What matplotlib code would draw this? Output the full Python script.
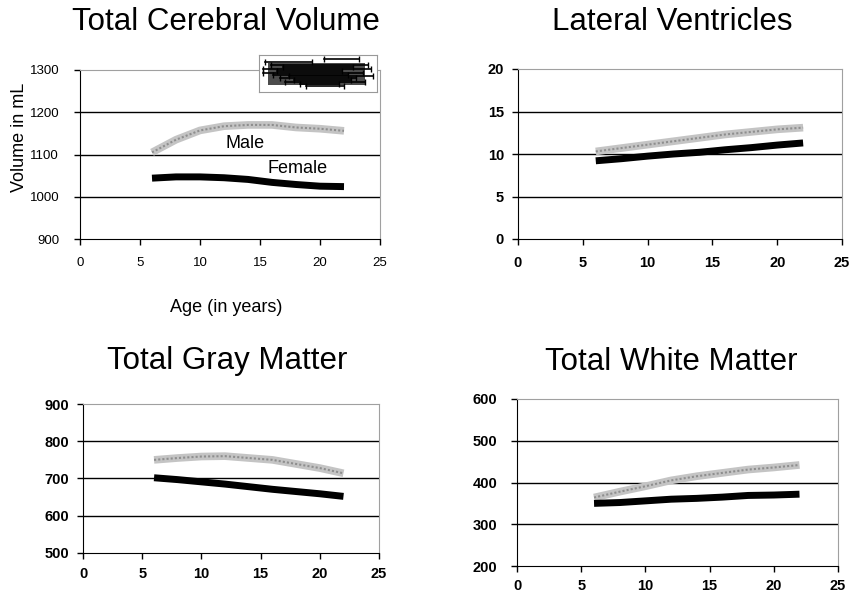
import matplotlib
matplotlib.use("Agg")
import matplotlib.pyplot as plt
import numpy as np

W, H = 849, 594

ages = [6, 8, 10, 12, 14, 16, 18, 20, 22]

tcv_male = [1105, 1135, 1157, 1167, 1170, 1170, 1164, 1161, 1156]
tcv_female = [1044, 1047, 1047, 1045, 1041, 1034, 1029, 1025, 1024]

lv_male = [10.3, 10.7, 11.1, 11.5, 11.9, 12.3, 12.6, 12.9, 13.1]
lv_female = [9.2, 9.45, 9.75, 10.0, 10.2, 10.5, 10.75, 11.05, 11.3]

gm_male = [750, 755, 759, 760, 755, 750, 739, 728, 714]
gm_female = [702, 697, 691, 685, 678, 671, 665, 659, 652]

wm_male = [364, 378, 391, 405, 415, 423, 431, 436, 442]
wm_female = [350, 352, 356, 360, 362, 365, 369, 370, 372]

titles = ["Total Cerebral Volume", "Lateral Ventricles",
          "Total Gray Matter", "Total White Matter"]
y_ranges = [(900, 1300, 100), (0, 20, 5), (500, 900, 100), (200, 600, 100)]
x_ticks = [0, 5, 10, 15, 20, 25]

# the little pasted scatter box in the first panel (inset units 0..1)
inset_y = [0.88, 0.80, 0.74, 0.68, 0.62, 0.57, 0.52, 0.47, 0.42, 0.37, 0.32, 0.27, 0.22, 0.17]
inset_x0 = [0.55, 0.05, 0.10, 0.20, 0.03, 0.15, 0.03, 0.12, 0.25, 0.18, 0.30, 0.22, 0.35, 0.40]
inset_x1 = [0.85, 0.45, 0.92, 0.80, 0.95, 0.70, 0.88, 0.75, 0.97, 0.82, 0.78, 0.90, 0.68, 0.72]


def px_rect(left, top, right, bottom):
    return [left / W, 1 - bottom / H, (right - left) / W, (bottom - top) / H]


def style_axes(ax, yr, bold, xpad, ypad):
    lo, hi, step = yr
    ax.set_xlim(0, 25)
    ax.set_ylim(lo, hi)
    ax.set_xticks(x_ticks)
    ax.set_yticks(np.arange(lo, hi + step, step))
    for yv in np.arange(lo + step, hi, step):
        ax.axhline(yv, color="black", lw=1, zorder=1)
    for s in ["top", "right"]:
        ax.spines[s].set_color("#a0a0a0")
    for s in ["left", "bottom"]:
        ax.spines[s].set_color("black")
    size = 10.5 if bold else 9.5
    ax.tick_params(axis="x", direction="out", length=4, width=1,
                   labelsize=size, pad=xpad)
    ax.tick_params(axis="y", direction="out", length=4, width=1,
                   labelsize=size, pad=ypad)
    for lab in ax.get_xticklabels() + ax.get_yticklabels():
        lab.set_fontweight("bold" if bold else "normal")


def draw_curves(ax, male, female):
    ax.plot(ages, male, color="#c4c4c4", lw=5.5, solid_capstyle="butt", zorder=3)
    ax.plot(ages, male, color="#8e8e8e", lw=1.5, linestyle=(0, (1, 1)), zorder=4)
    ax.plot(ages, female, color="black", lw=5, solid_capstyle="butt", zorder=5)


plt.rcParams["font.family"] = ["Liberation Sans", "DejaVu Sans"]
fig = plt.figure(figsize=(W / 100, H / 100), dpi=100)

rects = [px_rect(80, 70, 380, 239), px_rect(518, 69, 842, 239),
         px_rect(83, 404, 379, 553), px_rect(517, 399, 838, 566)]
series = [(tcv_male, tcv_female), (lv_male, lv_female),
          (gm_male, gm_female), (wm_male, wm_female)]
title_pos = [(226, 22), (672, 22), (227, 361), (671, 362)]
pads = [(9, 11), (8, 6), (6, 6), (5, 10)]

axes = []
for i in range(4):
    ax = fig.add_axes(rects[i])
    style_axes(ax, y_ranges[i], bold=(i != 0), xpad=pads[i][0], ypad=pads[i][1])
    draw_curves(ax, *series[i])
    tx, ty = title_pos[i]
    fig.text(tx / W, 1 - ty / H, titles[i], fontsize=22.5, ha="center", va="center")
    axes.append(ax)

ax1 = axes[0]
ax1.text(13.75, 1125, "Male", fontsize=13, ha="center", va="center", zorder=6)
ax1.text(18.1, 1068, "Female", fontsize=13, ha="center", va="center", zorder=6)
fig.text(20 / W, 1 - 137 / H, "Volume in mL", fontsize=13, rotation=90,
         ha="center", va="center")
fig.text(226 / W, 1 - 307 / H, "Age (in years)", fontsize=13,
         ha="center", va="center")

# inset box
ins = fig.add_axes(px_rect(259, 55, 377, 92))
ins.set_xlim(0, 1)
ins.set_ylim(0, 1)
ins.set_xticks([])
ins.set_yticks([])
for s in ins.spines.values():
    s.set_color("#999999")
for y, a, b in zip(inset_y, inset_x0, inset_x1):
    ins.plot([a, b], [y, y], color="black", lw=1.2, marker="|", ms=4, mew=1)
ins.fill_between([0.08, 0.9], 0.2, 0.78, color="black", alpha=0.7, lw=0)

fig.savefig("out.png", dpi=100)
